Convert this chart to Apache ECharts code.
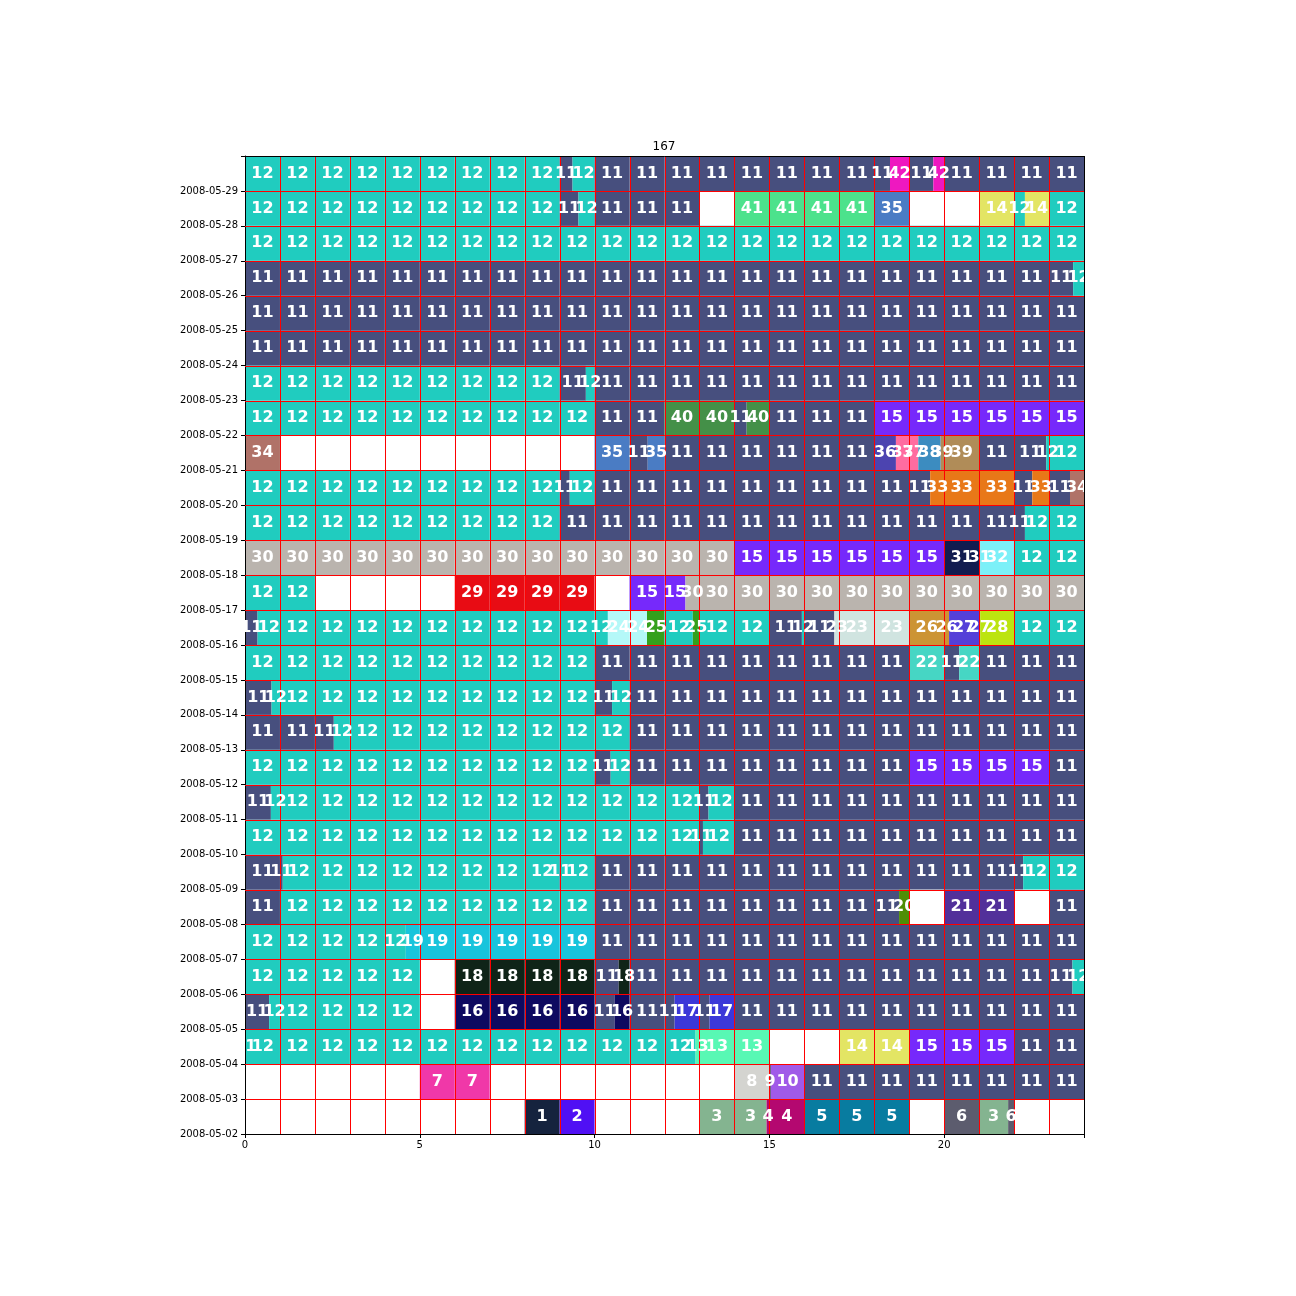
<!DOCTYPE html>
<html><head><meta charset="utf-8">
<script src="https://cdn.jsdelivr.net/npm/echarts@6/dist/echarts.min.js"></script>
<style>html,body{margin:0;padding:0;background:#fff}#c{width:1296px;height:1296px}</style>
</head><body><div id="c"></div>
<script>
const titleText = '167';
const dayLabels = ['2008-05-02','2008-05-03','2008-05-04','2008-05-05','2008-05-06','2008-05-07','2008-05-08',
  '2008-05-09','2008-05-10','2008-05-11','2008-05-12','2008-05-13','2008-05-14','2008-05-15','2008-05-16',
  '2008-05-17','2008-05-18','2008-05-19','2008-05-20','2008-05-21','2008-05-22','2008-05-23','2008-05-24',
  '2008-05-25','2008-05-26','2008-05-27','2008-05-28','2008-05-29'];
const hourTicks = [0, 5, 10, 15, 20];

// segments per day: [startHour, endHour, category]
const d0502 = [[8,9,1],[9,10,2],[13,14.92,3],[14.92,16,4],[16,19,5],[20,21,6],[21,21.83,3],[21.83,22,6]];
const d0503 = [[5,7,7],[14,15,8],[15,15.04,9],[15.04,16,10],[16,24,11]];
const d0504 = [[0,0.02,11],[0.02,12.89,12],[12.89,15,13],[17,19,14],[19,22,15],[22,24,11]];
const d0505 = [[0,0.69,11],[0.69,5,12],[6,10,16],[10,10.57,11],[10.57,11,16],[11,12.29,11],[12.29,13,17],[13,13.29,11],[13.29,14,17],[14,24,11]];
const d0506 = [[0,5,12],[6,10,18],[10,10.69,11],[10.69,11,18],[11,23.67,11],[23.67,24,12]];
const d0507 = [[0,4.6,12],[4.6,10,19],[10,24,11]];
const d0508 = [[0,1,11],[1,10,12],[10,18.71,11],[18.71,19,20],[20,22,21],[23,24,11]];
const d0509 = [[0,1.08,11],[1.08,9,12],[9,9.03,11],[9.03,10,12],[10,22.26,11],[22.26,24,12]];
const d0510 = [[0,13,12],[13,13.1,11],[13.1,14,12],[14,24,11]];
const d0511 = [[0,0.74,11],[0.74,13,12],[13,13.26,11],[13.26,14,12],[14,24,11]];
const d0512 = [[0,10,12],[10,10.46,11],[10.46,11,12],[11,19,11],[19,23,15],[23,24,11]];
const d0513 = [[0,2.54,11],[2.54,11,12],[11,24,11]];
const d0514 = [[0,0.76,11],[0.76,10,12],[10,10.5,11],[10.5,11,12],[11,24,11]];
const d0515 = [[0,10,12],[10,19,11],[19,20,22],[20,20.43,11],[20.43,21,22],[21,24,11]];
const d0516 = [[0,0.36,11],[0.36,10.38,12],[10.38,11.5,24],[11.5,12,25],[12,12.81,12],[12.81,13,25],[13,15,12],[15,15.93,11],[15.93,16,12],[16,16.86,11],[16.86,19,23],[19,20.14,26],[20.14,21.03,27],[21.03,22,28],[22,24,12]];
const d0517 = [[0,2,12],[6,10,29],[11,12.6,15],[12.6,24,30]];
const d0518 = [[0,14,30],[14,20,15],[20,21.03,31],[21.03,22,32],[22,24,12]];
const d0519 = [[0,9,12],[9,22.31,11],[22.31,24,12]];
const d0520 = [[0,9,12],[9,9.29,11],[9.29,10,12],[10,19.6,11],[19.6,22,33],[22,22.52,11],[22.52,23,33],[23,23.6,11],[23.6,24,34]];
const d0521 = [[0,1,34],[10,11,35],[11,11.52,11],[11.52,12,35],[12,18,11],[18,18.62,36],[18.62,19.26,37],[19.26,19.9,38],[19.9,21,39],[21,22.92,11],[22.92,24,12]];
const d0522 = [[0,10,12],[10,12,11],[12,14,40],[14,14.35,11],[14.35,15,40],[15,18,11],[18,24,15]];
const d0523 = [[0,9,12],[9,9.75,11],[9.75,10,12],[10,24,11]];
const d0524 = [[0,24,11]];
const d0525 = [[0,24,11]];
const d0526 = [[0,23.69,11],[23.69,24,12]];
const d0527 = [[0,24,12]];
const d0528 = [[0,9,12],[9,9.54,11],[9.54,10,12],[10,13,11],[14,18,41],[18,19,35],[21,22,14],[22,22.31,12],[22.31,23,14],[23,24,12]];
const d0529 = [[0,9,12],[9,9.37,11],[9.37,10,12],[10,18.45,11],[18.45,19,42],[19,19.69,11],[19.69,20,42],[20,24,11]];

const rows = [d0502,d0503,d0504,d0505,d0506,d0507,d0508,d0509,d0510,d0511,d0512,d0513,d0514,
  d0515,d0516,d0517,d0518,d0519,d0520,d0521,d0522,d0523,d0524,d0525,d0526,d0527,d0528,d0529];

const catColors = ['',
  '#15233e','#5010f4','#84b490','#b40870','#087ca0','#5c5c6e','#f038a8','#d4d4d0','#3a3a3a','#a05ae8',
  '#474f7e','#20ccbf','#58f8b4','#e3e564','#7629fb','#0e0a60','#3c38d8','#0f2418','#18c4dc','#4e8e06',
  '#52309a','#46d6c4','#d0e4e0','#b4f8f8','#34a01c','#cc9434','#5440d8','#bce410','#e80c14','#bab4ae',
  '#121c50','#7cf0f8','#e87818','#b07268','#4a7cc4','#4c44b0','#ff6ca0','#3c8cc0','#b08c58','#449048',
  '#4ce28c','#ee18c0'];

// split runs at hour boundaries -> pieces [start, end, row, cat]
const pieces = [];
rows.forEach((segs, r) => {
  segs.forEach(([s, e, c]) => {
    let a = s;
    while (a < e - 1e-9) {
      const b = Math.min(e, Math.floor(a + 1e-9) + 1);
      pieces.push([a, b, r, c]);
      a = b;
    }
  });
});
const nRows = rows.length;
const gridLines = [];
for (let h = 0; h <= 24; h++) gridLines.push([0, h]);
for (let r = 0; r <= nRows; r++) gridLines.push([1, r]);

const chart = echarts.init(document.getElementById('c'), null, {renderer: 'canvas'});
chart.setOption({
  backgroundColor: '#fff',
  animation: false,
  title: {text: titleText, left: 659, top: 136, textAlign: 'center',
    textStyle: {fontFamily: 'DejaVu Sans', fontSize: 12, fontWeight: 'normal', color: '#000'}},
  grid: {left: 245, right: 212, top: 156, bottom: 162},
  xAxis: {type: 'value', min: 0, max: 24, interval: 5,
    axisLine: {show: true, lineStyle: {color: '#000'}},
    axisTick: {show: true, length: 4, lineStyle: {color: '#000'}},
    axisLabel: {fontFamily: 'DejaVu Sans', fontSize: 10, color: '#000', margin: 6,
      formatter: v => hourTicks.indexOf(v) >= 0 ? String(v) : ''},
    splitLine: {show: false}},
  yAxis: {type: 'value', min: 0, max: nRows, interval: 1,
    axisLine: {show: true, lineStyle: {color: '#000'}},
    axisTick: {show: true, length: 4, lineStyle: {color: '#000'}},
    axisLabel: {fontFamily: 'DejaVu Sans', fontSize: 10, color: '#000', margin: 7,
      formatter: v => (v < dayLabels.length ? dayLabels[v] : '')},
    splitLine: {show: false}},
  series: [
    {type: 'custom', z: 2, clip: true, data: pieces, encode: {x: [0, 1], y: 2},
      renderItem: (params, api) => {
        const p0 = api.coord([api.value(0), api.value(2) + 1]);
        const p1 = api.coord([api.value(1), api.value(2)]);
        return {type: 'rect', shape: {x: p0[0], y: p0[1], width: p1[0] - p0[0], height: p1[1] - p0[1]},
          style: {fill: catColors[api.value(3)]}};
      }},
    {type: 'custom', z: 3, data: gridLines, encode: {x: 1},
      renderItem: (params, api) => {
        const t = api.value(0), v = api.value(1);
        let a, b, edge;
        if (t === 0) { a = api.coord([v, 0]); b = api.coord([v, nRows]); edge = (v === 0 || v === 24);
          const x = Math.round(a[0]) + 0.5; a = [x, a[1]]; b = [x, b[1]]; }
        else { a = api.coord([0, v]); b = api.coord([24, v]); edge = (v === 0 || v === nRows);
          const y = Math.round(a[1]) + 0.5; a = [a[0], y]; b = [b[0], y]; }
        return {type: 'line', shape: {x1: a[0], y1: a[1], x2: b[0], y2: b[1]},
          style: {stroke: edge ? '#000' : '#ff0000', lineWidth: 1}};
      }},
    {type: 'custom', z: 4, clip: true, data: pieces, encode: {x: [0, 1], y: 2},
      renderItem: (params, api) => {
        const p = api.coord([(api.value(0) + api.value(1)) / 2, api.value(2) + 0.5]);
        return {type: 'text', x: p[0], y: p[1],
          style: {text: String(api.value(3)), fill: '#fff', fontFamily: 'DejaVu Sans', fontWeight: 'bold',
            fontSize: 16, align: 'center', verticalAlign: 'middle'}};
      }}
  ]
});
</script></body></html>
